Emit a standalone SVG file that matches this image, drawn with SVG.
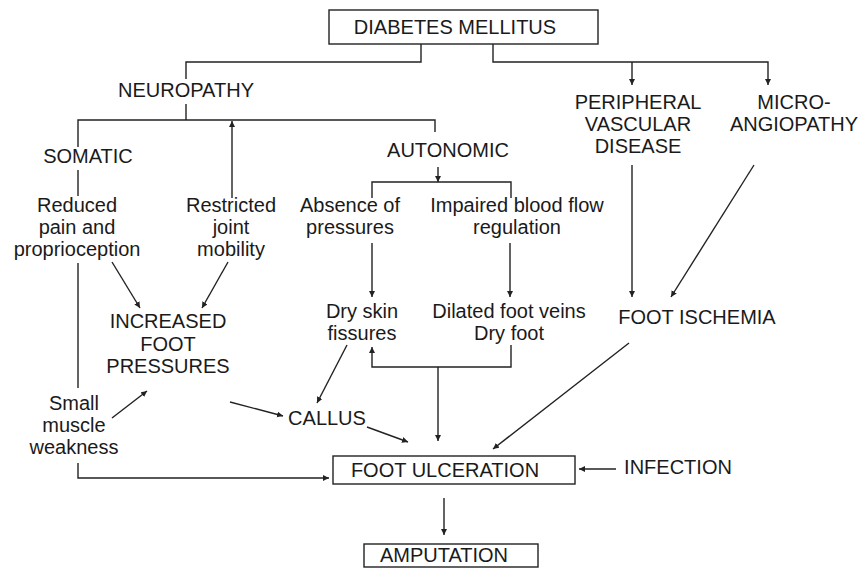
<svg xmlns="http://www.w3.org/2000/svg" width="862" height="568" viewBox="0 0 862 568">
<style>
text{font-family:"Liberation Sans",Arial,sans-serif;font-size:20px;fill:#1a1a1a;text-anchor:middle}
.box{fill:#fff;stroke:#222;stroke-width:1.4}
.ln{fill:none;stroke:#222;stroke-width:1.4}
</style>
<defs>
<marker id="ah" markerUnits="userSpaceOnUse" markerWidth="8" markerHeight="8" refX="6" refY="3" orient="auto">
<path d="M0,0 L6,3 L0,6 Z" fill="#222"/>
</marker>
</defs>
<rect width="862" height="568" fill="#fff"/>
<g id="connectors">
<polyline class="ln" points="421,44 421,62 186,62 186,79"/>
<polyline class="ln" points="186,104 186,120"/>
<polyline class="ln" points="78,147 78,120 435,120 435,132"/>
<polyline class="ln" points="78,170 78,196"/>
<polyline class="ln" points="78,263 78,388"/>
<polyline class="ln" points="78,463 78,478 329,478" marker-end="url(#ah)"/>
<polyline class="ln" points="232,198 232,121" marker-end="url(#ah)"/>
<polyline class="ln" points="438,167 438,182" marker-end="url(#ah)"/>
<polyline class="ln" points="372,198 372,182 511,182 511,198"/>
<polyline class="ln" points="372,243 372,297" marker-end="url(#ah)"/>
<polyline class="ln" points="510,243 510,297" marker-end="url(#ah)"/>
<polyline class="ln" points="511,345 511,367 372,367 372,347" marker-end="url(#ah)"/>
<polyline class="ln" points="438,367 438,441" marker-end="url(#ah)"/>
<line class="ln" x1="112" y1="262" x2="140" y2="308" marker-end="url(#ah)"/>
<line class="ln" x1="228" y1="262" x2="202" y2="308" marker-end="url(#ah)"/>
<line class="ln" x1="112" y1="418" x2="147" y2="391" marker-end="url(#ah)"/>
<line class="ln" x1="230" y1="402" x2="283" y2="416" marker-end="url(#ah)"/>
<line class="ln" x1="347" y1="345" x2="317" y2="403" marker-end="url(#ah)"/>
<line class="ln" x1="367" y1="427" x2="408" y2="442" marker-end="url(#ah)"/>
<line class="ln" x1="629" y1="343" x2="493" y2="449" marker-end="url(#ah)"/>
<line class="ln" x1="616" y1="469" x2="579" y2="469" marker-end="url(#ah)"/>
<line class="ln" x1="444" y1="498" x2="444" y2="535" marker-end="url(#ah)"/>
<polyline class="ln" points="493,44 493,62 768,62 768,85" marker-end="url(#ah)"/>
<line class="ln" x1="632" y1="62" x2="632" y2="85" marker-end="url(#ah)"/>
<line class="ln" x1="632" y1="165" x2="632" y2="297" marker-end="url(#ah)"/>
<line class="ln" x1="754" y1="165" x2="671" y2="297" marker-end="url(#ah)"/>
</g>
<g id="diabetes"><rect class="box" x="329" y="10" width="269" height="34"/><text x="455" y="34">DIABETES MELLITUS</text></g>
<g id="neuropathy"><text x="186" y="97">NEUROPATHY</text></g>
<g id="somatic"><text x="88" y="163">SOMATIC</text></g>
<g id="autonomic"><text x="448" y="157">AUTONOMIC</text></g>
<g id="pvd"><text x="638" y="109">PERIPHERAL</text><text x="638" y="131">VASCULAR</text><text x="638" y="153">DISEASE</text></g>
<g id="micro"><text x="794" y="109">MICRO-</text><text x="794" y="131">ANGIOPATHY</text></g>
<g id="reduced"><text x="77" y="212">Reduced</text><text x="77" y="234">pain and</text><text x="77" y="256">proprioception</text></g>
<g id="restricted"><text x="231" y="212">Restricted</text><text x="231" y="234">joint</text><text x="231" y="256">mobility</text></g>
<g id="absence"><text x="350" y="212">Absence of</text><text x="350" y="234">pressures</text></g>
<g id="impaired"><text x="517" y="212">Impaired blood flow</text><text x="517" y="234">regulation</text></g>
<g id="dryskin"><text x="362" y="318">Dry skin</text><text x="362" y="340">fissures</text></g>
<g id="dilated"><text x="509" y="318">Dilated foot veins</text><text x="509" y="340">Dry foot</text></g>
<g id="ischemia"><text x="697" y="324">FOOT ISCHEMIA</text></g>
<g id="increased"><text x="168" y="328">INCREASED</text><text x="168" y="351">FOOT</text><text x="168" y="373">PRESSURES</text></g>
<g id="small"><text x="74" y="410">Small</text><text x="74" y="432">muscle</text><text x="74" y="454">weakness</text></g>
<g id="callus"><text x="327" y="425">CALLUS</text></g>
<g id="ulceration"><rect class="box" x="333" y="456" width="242" height="28"/><text x="445" y="477">FOOT ULCERATION</text></g>
<g id="infection"><text x="678" y="474">INFECTION</text></g>
<g id="amputation"><rect class="box" x="364" y="544" width="174" height="23"/><text x="444" y="562">AMPUTATION</text></g>
</svg>
